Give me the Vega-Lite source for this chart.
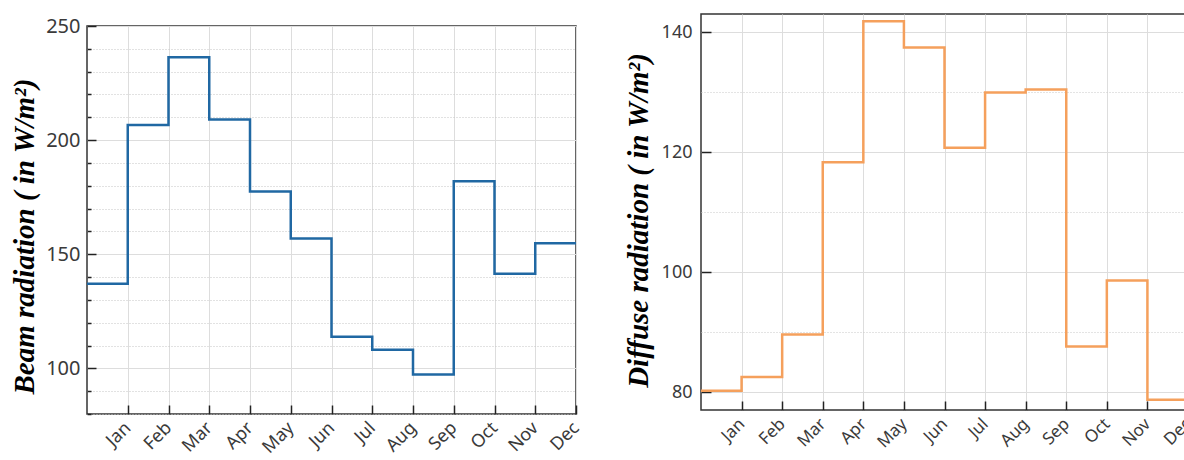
{
  "$schema": "https://vega.github.io/schema/vega-lite/v6.json",
  "background": "white",
  "padding": {"left": 9, "top": 13, "right": 5, "bottom": 5},
  "spacing": 39,
  "datasets": {
    "beam": [
      {"m": 0, "month": "start", "value": 137.1},
      {"m": 1, "month": "Jan", "value": 137.1},
      {"m": 2, "month": "Feb", "value": 206.6},
      {"m": 3, "month": "Mar", "value": 236.3},
      {"m": 4, "month": "Apr", "value": 209.0},
      {"m": 5, "month": "May", "value": 177.5},
      {"m": 6, "month": "Jun", "value": 156.9},
      {"m": 7, "month": "Jul", "value": 113.9},
      {"m": 8, "month": "Aug", "value": 108.2},
      {"m": 9, "month": "Sep", "value": 97.3},
      {"m": 10, "month": "Oct", "value": 182.0},
      {"m": 11, "month": "Nov", "value": 141.5},
      {"m": 12, "month": "Dec", "value": 154.8}
    ],
    "diffuse": [
      {"m": 0, "month": "start", "value": 80.2},
      {"m": 1, "month": "Jan", "value": 80.2},
      {"m": 2, "month": "Feb", "value": 82.5},
      {"m": 3, "month": "Mar", "value": 89.6},
      {"m": 4, "month": "Apr", "value": 118.3},
      {"m": 5, "month": "May", "value": 141.8},
      {"m": 6, "month": "Jun", "value": 137.4},
      {"m": 7, "month": "Jul", "value": 120.7},
      {"m": 8, "month": "Aug", "value": 129.9},
      {"m": 9, "month": "Sep", "value": 130.4},
      {"m": 10, "month": "Oct", "value": 87.6},
      {"m": 11, "month": "Nov", "value": 98.6},
      {"m": 12, "month": "Dec", "value": 78.7}
    ]
  },
  "config": {
    "view": {"stroke": "#333333", "strokeWidth": 1.5},
    "axis": {
      "domain": false,
      "tickColor": "#222222",
      "tickWidth": 1.5,
      "labelColor": "#3a3a3a",
      "labelFont": "Noto Sans",
      "titleFont": "Liberation Serif",
      "titleFontStyle": "italic",
      "titleFontWeight": "bold",
      "titleFontSize": 29,
      "titleColor": "#000000",
      "gridColor": "#dddddd",
      "gridWidth": 1,
      "labelOverlap": false,
      "labelFlush": false
    }
  },
  "hconcat": [
    {
      "spacing": 0,
      "vconcat": [
        {
          "width": 489,
          "height": 1,
          "view": {"stroke": null},
          "data": {"values": []},
          "mark": "point",
          "encoding": {}
        },
        {
          "width": 489,
          "height": 388,
          "data": {"name": "beam"},
          "mark": {"type": "line", "interpolate": "step-before", "color": "#2068a3", "strokeWidth": 2.5},
          "encoding": {
            "x": {
              "field": "m",
              "type": "quantitative",
              "scale": {"domain": [0, 12], "nice": false, "zero": false},
              "axis": {
                "title": null,
                "offset": -9,
                "values": [1, 2, 3, 4, 5, 6, 7, 8, 9, 10, 11, 12],
                "labelExpr": "['Jan','Feb','Mar','Apr','May','Jun','Jul','Aug','Sep','Oct','Nov','Dec'][datum.value - 1]",
                "labelAngle": -45,
                "labelAlign": "right",
                "labelBaseline": "middle",
                "labelFontSize": 18,
                "tickSize": 9,
                "labelPadding": 11,
                "grid": true
              }
            },
            "y": {
              "field": "value",
              "type": "quantitative",
              "scale": {"domain": [80, 250], "nice": false, "zero": false},
              "axis": {
                "title": "Beam radiation ( in W/m²)",
                "titlePadding": 6,
                "titleY": 210,
                "offset": -9,
                "values": [80, 90, 100, 110, 120, 130, 140, 150, 160, 170, 180, 190, 200, 210, 220, 230, 240, 250],
                "labelExpr": "datum.value % 50 === 0 ? datum.label : ''",
                "labelFontSize": 20,
                "labelPadding": 7,
                "tickSize": 9,
                "tickDash": {"condition": {"test": "datum.value % 50 === 0", "value": []}, "value": [0, 5, 4]},
                "gridDash": {"condition": {"test": "datum.value % 50 === 0", "value": []}, "value": [1, 2]},
                "gridColor": {"condition": {"test": "datum.value % 50 === 0", "value": "#dddddd"}, "value": "#c4c4c4"}
              }
            }
          }
        }
      ]
    },
    {
      "width": 487,
      "height": 396,
      "data": {"name": "diffuse"},
      "mark": {"type": "line", "interpolate": "step-before", "color": "#f5a05c", "strokeWidth": 2.5},
      "encoding": {
        "x": {
          "field": "m",
          "type": "quantitative",
          "scale": {"domain": [0, 12], "nice": false, "zero": false},
          "axis": {
            "title": null,
            "offset": -9,
            "values": [1, 2, 3, 4, 5, 6, 7, 8, 9, 10, 11, 12],
            "labelExpr": "['Jan','Feb','Mar','Apr','May','Jun','Jul','Aug','Sep','Oct','Nov','Dec'][datum.value - 1]",
            "labelAngle": -45,
            "labelAlign": "right",
            "labelBaseline": "middle",
            "labelFontSize": 17,
            "tickSize": 9,
            "labelPadding": 11,
            "grid": true
          }
        },
        "y": {
          "field": "value",
          "type": "quantitative",
          "scale": {"domain": [77, 143], "nice": false, "zero": false},
          "axis": {
            "title": "Diffuse radiation ( in W/m²)",
            "titlePadding": 8,
            "titleY": 206,
            "offset": -10,
            "values": [80, 90, 100, 110, 120, 130, 140],
            "labelExpr": "datum.value % 20 === 0 ? datum.label : ''",
            "labelFontSize": 18,
            "labelPadding": 9,
            "tickSize": 10,
            "tickOpacity": {"condition": {"test": "datum.value % 20 === 0", "value": 1}, "value": 0},
            "gridDash": {"condition": {"test": "datum.value % 20 === 0", "value": []}, "value": [1, 2]},
            "gridColor": {"condition": {"test": "datum.value % 20 === 0", "value": "#dddddd"}, "value": "#c8c8c8"}
          }
        }
      }
    }
  ]
}
